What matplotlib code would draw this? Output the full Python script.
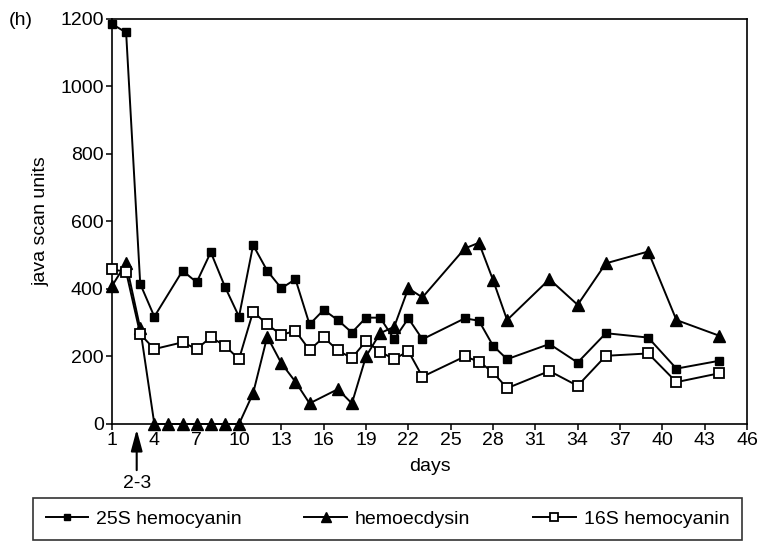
import matplotlib
matplotlib.use("Agg")
import matplotlib.pyplot as plt

plt.rcParams['font.family'] = ['Liberation Sans', 'DejaVu Sans']

# 25S hemocyanin (filled squares)
days_25s = [1, 2, 3, 4, 6, 7, 8, 9, 10, 11, 12, 13, 14, 15, 16, 17, 18, 19, 20, 21, 22, 23,
            26, 27, 28, 29, 32, 34, 36, 39, 41, 44]
vals_25s = [1185, 1160, 415, 318, 454, 420, 509, 407, 318, 530, 454, 402, 429, 295, 338, 308,
            271, 315, 315, 251, 313, 251, 313, 306, 232, 192, 237, 182, 269, 256, 164, 187]

# hemoecdysin (filled triangles)
days_hem = [1, 2, 3, 4, 5, 6, 7, 8, 9, 10, 11, 12, 13, 14, 15, 17, 18, 19, 20, 21, 22, 23,
            26, 27, 28, 29, 32, 34, 36, 39, 41, 44]
vals_hem = [409, 476, 283, 0, 0, 0, 0, 0, 0, 0, 91, 259, 180, 125, 61, 103, 61, 200, 269, 288,
            402, 375, 520, 537, 427, 308, 429, 353, 476, 511, 308, 262]

# 16S hemocyanin (open squares)
days_16s = [1, 2, 3, 4, 6, 7, 8, 9, 10, 11, 12, 13, 14, 15, 16, 17, 18, 19, 20, 21, 22, 23,
            26, 27, 28, 29, 32, 34, 36, 39, 41, 44]
vals_16s = [458, 451, 266, 222, 242, 222, 257, 232, 192, 333, 295, 264, 276, 219, 257, 218,
            195, 246, 214, 192, 216, 140, 200, 185, 153, 106, 157, 113, 202, 209, 124, 150]

x_ticks = list(range(1, 47, 3))
y_ticks = list(range(0, 1201, 200))

fig = plt.figure(figsize=(7.63, 5.47), dpi=100)
ax = fig.add_axes([0.1468, 0.2249, 0.8322, 0.7404])

ax.plot(days_25s, vals_25s, color='black', lw=1.4, marker='s', ms=6,
        mfc='black', mec='black', label='25S hemocyanin', clip_on=False, zorder=3)
ax.plot(days_hem, vals_hem, color='black', lw=1.4, marker='^', ms=9,
        mfc='black', mec='black', label='hemoecdysin', clip_on=False, zorder=3)
ax.plot(days_16s, vals_16s, color='black', lw=1.4, marker='s', ms=7,
        mfc='white', mec='black', mew=1.3, label='16S hemocyanin', clip_on=False, zorder=4)

ax.set_xlim(1, 46)
ax.set_ylim(0, 1200)
ax.set_xticks(x_ticks)
ax.set_yticks(y_ticks)
ax.tick_params(direction='out', length=4, width=1.1, labelsize=14, pad=2)
for s in ax.spines.values():
    s.set_linewidth(1.2)

ax.set_xlabel('days', fontsize=14, labelpad=6)
ax.set_ylabel('java scan units', fontsize=14, labelpad=8)

fig.text(0.012, 0.962, '(h)', fontsize=14, ha='left', va='center')

# arrow marking days 2-3
ax.annotate('', xy=(2.75, -8), xytext=(2.75, -145),
            arrowprops=dict(arrowstyle='-|>,head_width=0.35,head_length=1.3',
                            color='black', lw=1.5),
            annotation_clip=False)
ax.text(2.75, -152, '2-3', fontsize=14, ha='center', va='top')

leg = fig.legend(loc='lower left', bbox_to_anchor=(0.0433, 0.012, 0.929, 0.077),
                 mode='expand', ncol=3, frameon=True, fontsize=14, markerscale=0.8,
                 handlelength=2.2, borderpad=0.65, handletextpad=0.4,
                 fancybox=False, borderaxespad=0)
leg.get_frame().set_edgecolor('black')
leg.get_frame().set_linewidth(1.2)

fig.savefig('out.png', dpi=100)
